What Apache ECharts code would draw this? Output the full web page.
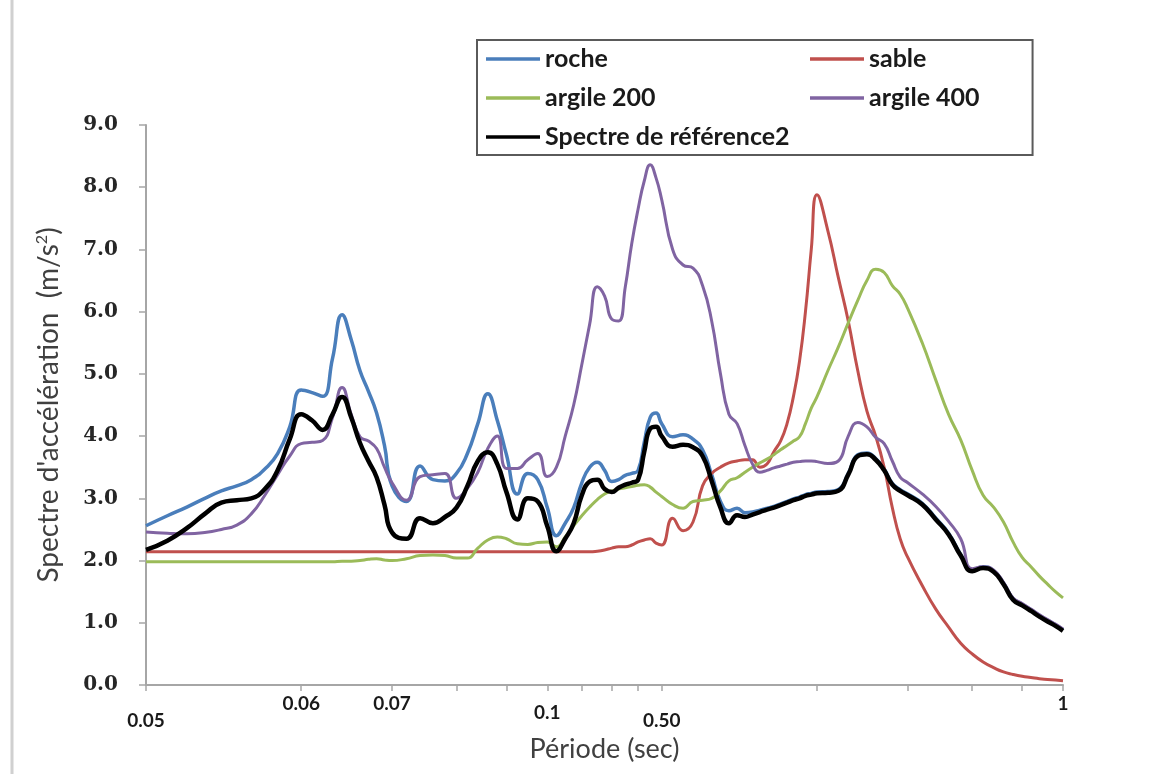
<!DOCTYPE html>
<html>
<head>
<meta charset="utf-8">
<title>Spectre d'accélération</title>
<script src="https://cdn.jsdelivr.net/npm/echarts@6/dist/echarts.min.js"></script>
<style>
  html, body { margin: 0; padding: 0; background: #ffffff; }
  #chart { width: 1162px; height: 774px; }
</style>
</head>
<body>
<div id="chart"></div>
<script>
// Position of each sample on the logarithmic abscissa
const abscissa = [
  1.0, 1.1, 1.2, 1.3, 1.4, 1.5, 1.6, 1.7, 1.8, 1.9, 2.0,
  2.1, 2.2, 2.3, 2.4, 2.5, 2.6, 2.7, 2.8, 2.9, 3.0,
  3.2, 3.4, 3.6, 3.8, 4.0, 4.2, 4.4, 4.6, 4.8, 5.0,
  5.25, 5.5, 5.75, 6.0, 6.25, 6.5, 6.75, 7.0, 7.25, 7.5, 7.75, 8.0, 8.25, 8.5, 8.75, 9.0, 9.25, 9.5, 9.75, 10,
  10.5, 11, 11.5, 12, 12.5, 13, 13.5, 14, 14.5, 15, 15.5, 16, 16.5, 17, 17.5, 18, 18.5, 19, 19.5, 20,
  21, 22, 23, 24, 25, 26, 27, 28, 29, 30,
  32, 34, 36, 38, 40, 42, 44, 46, 48, 50, 52, 54, 56, 58, 60
];

// Spectral acceleration (m/s²)
const roche = [
  2.56, 2.72, 2.86, 3.00, 3.12, 3.20, 3.30, 3.47, 3.72, 4.15, 4.74,
  4.70, 4.64, 5.25, 5.95, 5.55, 5.05, 4.72, 4.37, 3.85, 3.20,
  2.95, 3.52, 3.30, 3.28, 3.40, 3.72, 4.20, 4.68, 4.25, 3.70,
  3.07, 3.40, 3.30, 2.85, 2.40, 2.60, 2.85, 3.25, 3.50, 3.58, 3.45, 3.27, 3.30, 3.37, 3.40, 3.45, 3.90, 4.30, 4.37, 4.20,
  3.99, 4.02, 3.95, 3.78, 3.38, 2.95, 2.80, 2.84, 2.77, 2.78, 2.81, 2.84, 2.87, 2.91, 2.95, 2.99, 3.02, 3.06, 3.08, 3.10,
  3.11, 3.14, 3.40, 3.70, 3.73, 3.64, 3.47, 3.24, 3.14, 3.07,
  2.92, 2.68, 2.44, 2.10, 1.85, 1.90, 1.84, 1.64, 1.39, 1.30, 1.21, 1.12, 1.04, 0.97, 0.89
];

const sable = [
  2.14, 2.14, 2.14, 2.14, 2.14, 2.14, 2.14, 2.14, 2.14, 2.14, 2.14,
  2.14, 2.14, 2.14, 2.14, 2.14, 2.14, 2.14, 2.14, 2.14, 2.14,
  2.14, 2.14, 2.14, 2.14, 2.14, 2.14, 2.14, 2.14, 2.14, 2.14,
  2.14, 2.14, 2.14, 2.14, 2.14, 2.14, 2.14, 2.14, 2.14, 2.15, 2.17, 2.20, 2.22, 2.22, 2.25, 2.30, 2.33, 2.35, 2.28, 2.25,
  2.68, 2.48, 2.62, 3.20, 3.40, 3.50, 3.57, 3.60, 3.62, 3.62, 3.50, 3.55, 3.75, 3.92, 4.20, 4.63, 5.20, 6.00, 7.00, 7.88,
  7.30, 6.55, 5.85, 5.05, 4.40, 4.00, 3.50, 2.85, 2.35, 2.05,
  1.60, 1.22, 0.93, 0.67, 0.50, 0.37, 0.28, 0.21, 0.17, 0.14, 0.12, 0.10, 0.09, 0.08, 0.07
];

const argile200 = [
  1.98, 1.98, 1.98, 1.98, 1.98, 1.98, 1.98, 1.98, 1.98, 1.98, 1.98,
  1.98, 1.98, 1.98, 1.99, 1.99, 2.00, 2.02, 2.03, 2.01, 2.00,
  2.03, 2.08, 2.09, 2.08, 2.04, 2.04, 2.20, 2.33, 2.38, 2.35,
  2.27, 2.26, 2.29, 2.30, 2.22, 2.38, 2.56, 2.72, 2.86, 2.98, 3.07, 3.12, 3.15, 3.17, 3.19, 3.21, 3.22, 3.18, 3.10, 3.03,
  2.90, 2.84, 2.95, 2.97, 3.00, 3.12, 3.28, 3.33, 3.42, 3.50, 3.57, 3.63, 3.70, 3.78, 3.85, 3.92, 3.99, 4.20, 4.45, 4.63,
  5.05, 5.43, 5.82, 6.18, 6.50, 6.68, 6.63, 6.42, 6.28, 6.05,
  5.50, 4.90, 4.35, 3.94, 3.45, 3.05, 2.86, 2.62, 2.30, 2.05, 1.90, 1.75, 1.62, 1.50, 1.40
];

const argile400 = [
  2.46, 2.44, 2.43, 2.45, 2.50, 2.57, 2.75, 3.05, 3.38, 3.68, 3.88,
  3.90, 3.93, 4.30, 4.78, 4.35, 3.99, 3.92, 3.80, 3.50, 3.25,
  2.97, 3.35, 3.38, 3.40, 3.00, 3.16, 3.42, 3.80, 4.00, 3.48,
  3.48, 3.62, 3.72, 3.35, 3.50, 4.00, 4.50, 5.15, 5.80, 6.40, 6.25, 5.88, 5.85, 6.40, 7.10, 7.65, 8.10, 8.36, 8.15, 7.80,
  7.00, 6.75, 6.70, 6.42, 5.85, 5.00, 4.35, 4.20, 3.85, 3.55, 3.42, 3.45, 3.49, 3.52, 3.55, 3.58, 3.59, 3.60, 3.60, 3.59,
  3.56, 3.60, 4.00, 4.22, 4.15, 3.98, 3.88, 3.60, 3.34, 3.25,
  3.07, 2.87, 2.63, 2.35, 1.87, 1.90, 1.85, 1.65, 1.40, 1.31, 1.22, 1.13, 1.05, 0.98, 0.90
];

const spectreReference2 = [
  2.17, 2.32, 2.52, 2.75, 2.93, 2.97, 3.00, 3.15, 3.45, 3.95, 4.35,
  4.25, 4.10, 4.35, 4.63, 4.30, 3.89, 3.60, 3.34, 2.90, 2.45,
  2.35, 2.68, 2.60, 2.70, 2.85, 3.20, 3.60, 3.74, 3.55, 3.10,
  2.66, 3.00, 2.95, 2.55, 2.15, 2.35, 2.60, 3.05, 3.27, 3.30, 3.15, 3.10, 3.17, 3.22, 3.25, 3.30, 3.75, 4.12, 4.15, 4.00,
  3.83, 3.86, 3.82, 3.68, 3.28, 2.85, 2.60, 2.73, 2.70, 2.74, 2.78, 2.82, 2.85, 2.89, 2.93, 2.97, 3.00, 3.04, 3.06, 3.08,
  3.09, 3.12, 3.38, 3.68, 3.71, 3.62, 3.45, 3.22, 3.12, 3.05,
  2.90, 2.66, 2.42, 2.08, 1.83, 1.88, 1.82, 1.62, 1.37, 1.28, 1.19, 1.10, 1.02, 0.95, 0.87
];

const seriesNames = ['roche', 'sable', 'argile 200', 'argile 400', 'Spectre de référence2'];
const seriesValues = [roche, sable, argile200, argile400, spectreReference2];
const seriesColors = ['#4a7ebb', '#c0504d', '#9bbb59', '#8064a2', '#000000'];
const seriesWidths = [3.5, 3, 3, 3, 4.5];

// Abscissa ticks and the period labels written under them
const tickMarks = [1, 2, 3, 4, 5, 6, 7, 8, 9, 10, 20, 30, 40, 50, 60];
const tickLabelPos = [1, 2, 3, 6, 10, 60];
const tickLabels = ['0.05', '0.06', '0.07', '0.1', '0.50', '1'];
const tickLabelRow = ['lo', 'hi', 'hi', 'mid', 'lo', 'hi'];

const yTicks = [0, 1, 2, 3, 4, 5, 6, 7, 8, 9];

const chart = echarts.init(document.getElementById('chart'), null, { renderer: 'canvas' });

const labelFont = { fontFamily: 'Lato', fontWeight: 'bold', fontSize: 19, color: '#1a1a1a' };
const legendFont = { fontFamily: 'Lato', fontWeight: 'bold', fontSize: 25, color: '#1a1a1a', lineHeight: 26 };

function tickIndex(v) {
  for (let i = 0; i < tickLabelPos.length; i++) {
    if (Math.abs(tickLabelPos[i] - v) < 1e-6 * tickLabelPos[i]) return i;
  }
  return -1;
}

const option = {
  backgroundColor: '#ffffff',
  animation: false,
  grid: { left: 146, right: 99, top: 125, bottom: 89, containLabel: false },
  graphic: [{
    type: 'line',
    shape: { x1: 12, y1: 0, x2: 12, y2: 774 },
    style: { stroke: '#d0d0d0', lineWidth: 3 },
    silent: true
  }],
  legend: {
    left: 477, top: 40, width: 500,
    padding: [6, 53, 5, 9],
    orient: 'horizontal',
    icon: 'rect',
    itemWidth: 54, itemHeight: 3.5, itemGap: 13,
    borderColor: '#5a5a5a', borderWidth: 2,
    backgroundColor: '#ffffff',
    data: seriesNames,
    formatter: function (name) {
      return (seriesNames.indexOf(name) % 2 === 0 ? '{w|' : '{n|') + name + '}';
    },
    textStyle: Object.assign({}, legendFont, {
      rich: {
        w: Object.assign({ width: 252 }, legendFont),
        n: Object.assign({}, legendFont)
      }
    })
  },
  xAxis: {
    type: 'log',
    logBase: 10,
    min: 1,
    max: 60,
    name: 'Période (sec)',
    nameLocation: 'middle',
    nameGap: 45,
    nameTextStyle: { fontFamily: 'Lato', fontSize: 27, color: '#404040' },
    axisLine: { show: true, onZero: false, lineStyle: { color: '#a6a6a6', width: 2 } },
    axisTick: { show: true, inside: false, length: 6, customValues: tickMarks, lineStyle: { color: '#a6a6a6', width: 1.5 } },
    minorTick: { show: false },
    splitLine: { show: false },
    axisLabel: Object.assign({}, labelFont, {
      customValues: tickLabelPos,
      margin: 9,
      showMinLabel: true,
      showMaxLabel: true,
      formatter: function (v) {
        const i = tickIndex(v);
        return i < 0 ? '' : '{' + tickLabelRow[i] + '|' + tickLabels[i] + '}';
      },
      rich: {
        hi: Object.assign({ lineHeight: 20 }, labelFont),
        mid: Object.assign({ lineHeight: 20, padding: [18, 0, 0, 0] }, labelFont),
        lo: Object.assign({ lineHeight: 20, padding: [34, 0, 0, 0] }, labelFont)
      }
    })
  },
  yAxis: {
    type: 'value',
    min: yTicks[0],
    max: yTicks[yTicks.length - 1],
    interval: 1,
    name: "Spectre d'accélération  (m/s{sup|2})",
    nameLocation: 'middle',
    nameGap: 82,
    nameRotate: 90,
    nameTextStyle: {
      fontFamily: 'Lato', fontSize: 28, color: '#404040', lineHeight: 30,
      rich: { sup: { fontFamily: 'Lato', fontSize: 16, color: '#404040', verticalAlign: 'top', lineHeight: 30 } }
    },
    axisLine: { show: true, lineStyle: { color: '#a6a6a6', width: 2 } },
    axisTick: { show: true, inside: false, length: 7, lineStyle: { color: '#a6a6a6', width: 1.5 } },
    splitLine: { show: false },
    axisLabel: {
      margin: 28,
      fontFamily: 'DejaVu Serif', fontWeight: 'bold', fontSize: 20, color: '#262626',
      formatter: function (v) { return v.toFixed(1); }
    }
  },
  series: seriesNames.map(function (name, k) {
    return {
      name: name,
      type: 'line',
      data: abscissa.map(function (x, i) { return [x, seriesValues[k][i]]; }),
      showSymbol: false,
      symbol: 'none',
      smooth: 0.5,
      color: seriesColors[k],
      lineStyle: { color: seriesColors[k], width: seriesWidths[k] },
      emphasis: { disabled: true }
    };
  })
};

chart.setOption(option);
</script>
</body>
</html>
